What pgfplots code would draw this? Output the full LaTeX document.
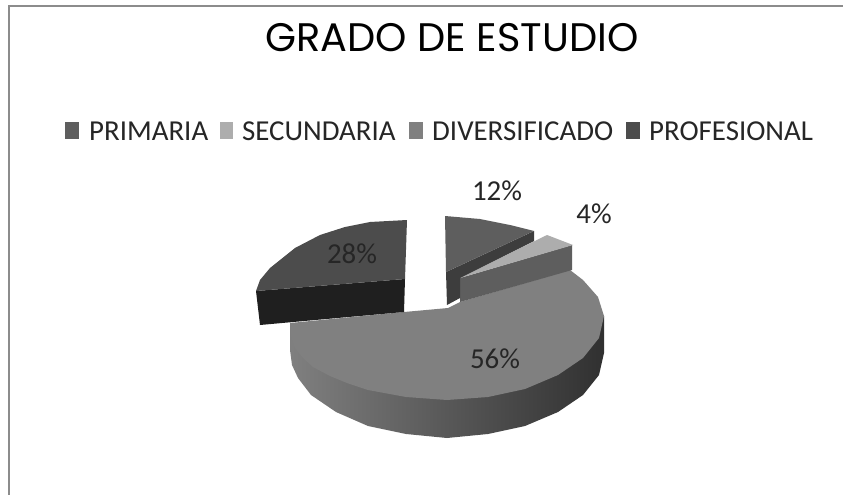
\documentclass[border=0pt]{standalone}
\usepackage{pgfplots}
\pgfplotsset{compat=1.18}
\usepackage{fontspec}
\setmainfont{Carlito}
\newfontfamily\titlefont{Poppins}
\definecolor{cPrim}{gray}{0.37}
\definecolor{cPrimS}{gray}{0.24}
\definecolor{cSec}{gray}{0.68}
\definecolor{cSecS}{gray}{0.37}
\definecolor{cDiv}{gray}{0.50}
\definecolor{cProf}{gray}{0.30}
\definecolor{cProfS}{gray}{0.12}
\begin{document}
\begin{tikzpicture}
\begin{axis}[
  scale only axis, width=843bp, height=495bp,
  xmin=0, xmax=843, ymin=0, ymax=495, y dir=reverse,
  axis lines=none, clip=true]
% page background (keeps the whole canvas in the picture)
\addplot[draw=none, fill=white] coordinates {(0,0) (843,0) (843,495) (0,495)} -- cycle;
% frame
\addplot[gray!90, line width=2pt] coordinates {(9,495) (9,6) (843,6)};
% DIVERSIFICADO side
\addplot[draw=none, left color={rgb,1:red,0.50;green,0.50;blue,0.50}, middle color={rgb,1:red,0.30;green,0.30;blue,0.30}, right color={rgb,1:red,0.19;green,0.19;blue,0.19}] coordinates {
 (290,325) (290,350) (292,365) (298,378) (311,395) (336,412) (368,426) (406,434) (447,438) (488,434) (525,426) (558,412) (583,395) (599,375) (604,353) (604,316) (540,330) (450,350) (350,345)} -- cycle;
% DIVERSIFICADO top
\addplot[draw=none, fill=cDiv] coordinates {
 (460,302) (448,308) (404,312) (290,323) (291,337) (295,348) (303,358) (313,367) (330,376) (347,383) (368,390) (406,397) (447,400) (488,397) (525,389) (558,375) (583,358) (599,338) (604,316) (598,297) (583,280) (570,270)} -- cycle;
% SECUNDARIA side + top
\addplot[draw=none, fill=cSecS] coordinates {(460,278) (572,245) (572,270) (460,302)} -- cycle;
\addplot[draw=none, fill=cSec] coordinates {(460,278) (547,235) (573,245)} -- cycle;
% PRIMARIA side + top
\addplot[draw=none, fill=cPrimS] coordinates {(446,272) (534,231) (534,241) (460,278) (460,298) (447,305)} -- cycle;
\addplot[draw=none, fill=cPrim] coordinates {(445,216) (480,219) (510,225) (534,231) (446,272)} -- cycle;
% PROFESIONAL side + top
\addplot[draw=none, fill=cProfS] coordinates {(256,291) (405,279) (404,312) (260,325)} -- cycle;
\addplot[draw=none, fill=cProf] coordinates {(407,220) (370,222) (345,227) (320,235) (295,248) (270,268) (260,280) (256,291) (405,279)} -- cycle;
% legend swatches
\addplot[draw=none, fill=cPrim] coordinates {(65,122) (79,122) (79,139) (65,139)} -- cycle;
\addplot[draw=none, fill=cSec] coordinates {(220,122) (233,122) (233,139) (220,139)} -- cycle;
\addplot[draw=none, fill=cDiv] coordinates {(409,122) (423,122) (423,139) (409,139)} -- cycle;
\addplot[draw=none, fill=cProf] coordinates {(626,122) (640,122) (640,139) (626,139)} -- cycle;
% text
\node[anchor=center, font=\titlefont\fontsize{40}{44}\selectfont] at (axis cs:452,38) {GRADO DE ESTUDIO};
\node[anchor=west, inner sep=0pt, font=\fontsize{29}{31}\selectfont, text=black!85] at (axis cs:89,131) {PRIMARIA};
\node[anchor=west, inner sep=0pt, font=\fontsize{29}{31}\selectfont, text=black!85] at (axis cs:242,131) {SECUNDARIA};
\node[anchor=west, inner sep=0pt, font=\fontsize{29}{31}\selectfont, text=black!85] at (axis cs:432,131) {DIVERSIFICADO};
\node[anchor=west, inner sep=0pt, font=\fontsize{29}{31}\selectfont, text=black!85] at (axis cs:649,131) {PROFESIONAL};
\node[font=\fontsize{29}{31}\selectfont, text=black!85] at (axis cs:497,191) {12\%};
\node[font=\fontsize{29}{31}\selectfont, text=black!85] at (axis cs:594,214) {4\%};
\node[font=\fontsize{29}{31}\selectfont, text=black!85] at (axis cs:352,254) {28\%};
\node[font=\fontsize{29}{31}\selectfont, text=black!85] at (axis cs:495,359) {56\%};
\end{axis}
\end{tikzpicture}
\end{document}
